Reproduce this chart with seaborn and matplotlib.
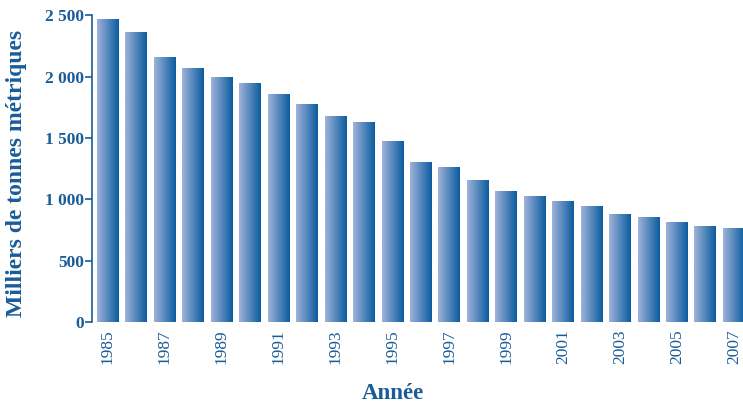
import matplotlib
matplotlib.use("Agg")
import matplotlib.pyplot as plt
import seaborn as sns
import numpy as np
import pandas as pd
from matplotlib.colors import LinearSegmentedColormap

years = list(range(1985, 2008))
values = [2470, 2365, 2160, 2072, 1998, 1949, 1860, 1778, 1680, 1631, 1476,
          1305, 1264, 1158, 1068, 1028, 987, 946, 881, 856, 816, 783, 767]
ytick_vals = [0, 500, 1000, 1500, 2000, 2500]
ytick_labels = ["0", "500", "1 000", "1 500", "2 000", "2 500"]

blue = "#1a5c98"
light = "#a0b3da"
dark = "#0a5c9f"

sns.set_style("white")
plt.rcParams["font.family"] = ["Liberation Serif", "DejaVu Serif"]

df = pd.DataFrame({"year": [str(y) for y in years], "value": values})

fig = plt.figure(figsize=(7.43, 4.04), dpi=100)
ax = fig.add_axes([92/743, 82/404, 651/743, 306.5/404])
sns.barplot(data=df, x="year", y="value", color=dark, width=0.77, ax=ax,
            saturation=1)

cmap = LinearSegmentedColormap.from_list("g", [light, dark])
grad = np.linspace(0, 1, 256).reshape(1, -1)
for p in ax.patches:
    x0, y0 = p.get_x(), p.get_y()
    w, h = p.get_width(), p.get_height()
    p.set_facecolor("none")
    p.set_edgecolor("none")
    im = ax.imshow(grad, cmap=cmap, extent=[x0, x0 + w, y0, y0 + h],
                   aspect="auto", zorder=2, interpolation="bilinear")
    im.set_clip_path(p)

ax.set_xlim(-0.56, 22.32)
ax.set_ylim(0, 2500)

for s in ["top", "right", "bottom"]:
    ax.spines[s].set_visible(False)
ax.spines["left"].set_color(blue)
ax.spines["left"].set_linewidth(1.2)

ax.set_yticks(ytick_vals)
ax.set_yticklabels(ytick_labels, fontsize=12.5, fontweight="bold", color=blue)
ax.tick_params(axis="y", left=True, direction="out", length=5, width=1.2,
               color=blue, pad=1)

ax.set_xticks(range(len(years)))
ax.set_xticklabels([str(y) if i % 2 == 0 else "" for i, y in enumerate(years)],
                   rotation=90, fontsize=12.5, color=blue)
ax.tick_params(axis="x", bottom=False, length=0, pad=5)

ax.set_ylabel("Milliers de tonnes métriques", fontsize=17, fontweight="bold", color=blue)
ax.yaxis.set_label_coords(-0.1, 0.486)
ax.set_xlabel("Année", fontsize=16.5, fontweight="bold", color=blue)
ax.xaxis.set_label_coords(0.4616, -0.198)

fig.savefig("out.png", dpi=100)
